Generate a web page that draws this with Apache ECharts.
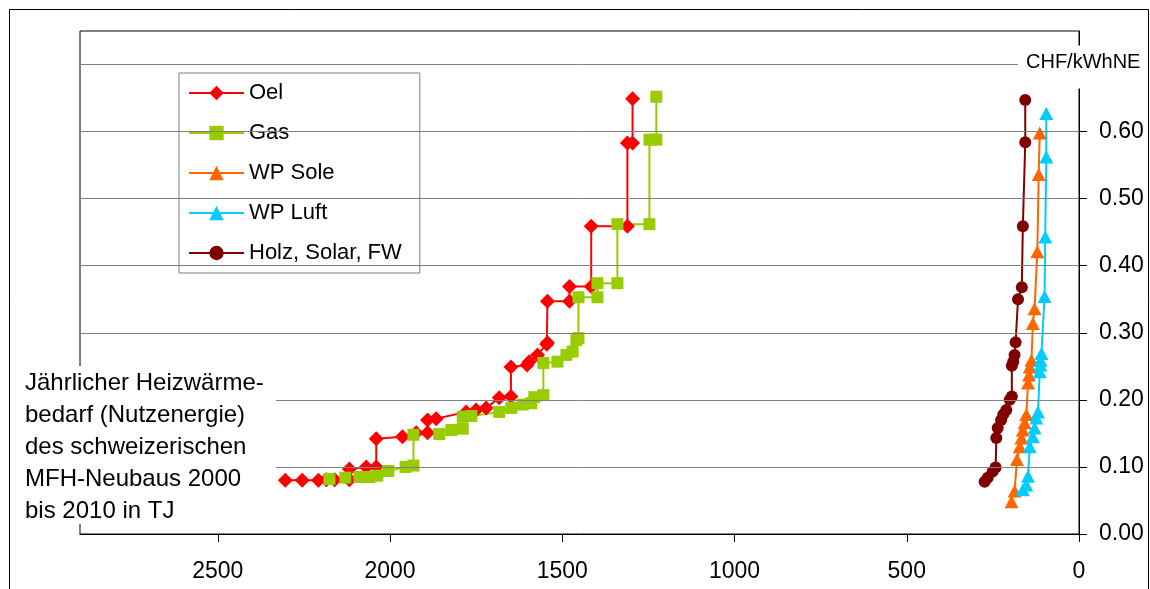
<!DOCTYPE html>
<html>
<head>
<meta charset="utf-8">
<script src="https://cdn.jsdelivr.net/npm/echarts@6/dist/echarts.min.js"></script>
<style>
  html, body { margin: 0; padding: 0; background: #fff; }
  #chart { width: 1150px; height: 589px; }
</style>
</head>
<body>
<div id="chart"></div>
<script>
// Heizwärmebedarf [TJ] vs. Energiepreis [CHF/kWhNE], je Energieträger
const seriesNames = ['Oel', 'Gas', 'WP Sole', 'WP Luft', 'Holz, Solar, FW'];

const oel = [
  [2304, 0.080], [2255, 0.080], [2208, 0.080], [2185, 0.081], [2161, 0.081],
  [2118, 0.081], [2118, 0.097], [2069, 0.100], [2040, 0.100], [2040, 0.142],
  [1964, 0.145], [1924, 0.151], [1891, 0.151], [1891, 0.170], [1866, 0.172],
  [1779, 0.182], [1750, 0.185], [1721, 0.188], [1683, 0.203], [1649, 0.205],
  [1649, 0.249], [1602, 0.252], [1596, 0.257], [1572, 0.267], [1545, 0.283],
  [1543, 0.285], [1543, 0.347], [1479, 0.347], [1479, 0.369], [1416, 0.369],
  [1416, 0.459], [1311, 0.459], [1311, 0.583], [1296, 0.583], [1296, 0.649]
];

const gas = [
  [2176, 0.082], [2130, 0.084], [2089, 0.085], [2060, 0.085], [2037, 0.087],
  [2005, 0.094], [1955, 0.100], [1932, 0.102], [1932, 0.148], [1857, 0.149],
  [1822, 0.155], [1789, 0.157], [1789, 0.175], [1764, 0.176], [1683, 0.182],
  [1648, 0.188], [1615, 0.193], [1590, 0.195], [1581, 0.204], [1555, 0.207],
  [1555, 0.255], [1514, 0.257], [1488, 0.267], [1470, 0.272], [1459, 0.289],
  [1453, 0.292], [1453, 0.353], [1398, 0.353], [1398, 0.374], [1340, 0.374],
  [1340, 0.462], [1247, 0.462], [1247, 0.588], [1227, 0.588], [1227, 0.652]
];

const wpSole = [
  [196, 0.048], [187, 0.064], [180, 0.111], [172, 0.130], [167, 0.143],
  [163, 0.155], [158, 0.166], [153, 0.178], [148, 0.225], [145, 0.237],
  [143, 0.249], [138, 0.259], [134, 0.314], [129, 0.336], [121, 0.421],
  [117, 0.536], [114, 0.598]
];

const wpLuft = [
  [163, 0.066], [153, 0.073], [148, 0.086], [143, 0.130], [134, 0.145],
  [129, 0.158], [124, 0.173], [119, 0.182], [114, 0.242], [112, 0.252],
  [112, 0.259], [109, 0.269], [100, 0.354], [98, 0.443], [95, 0.562],
  [95, 0.627]
];

const holzSolarFw = [
  [274, 0.078], [265, 0.084], [251, 0.093], [242, 0.099], [240, 0.143],
  [236, 0.158], [226, 0.170], [220, 0.178], [211, 0.185], [201, 0.200],
  [195, 0.205], [195, 0.251], [191, 0.257], [187, 0.267], [184, 0.286],
  [177, 0.350], [166, 0.368], [163, 0.459], [156, 0.584], [156, 0.647]
];

const xTicks = [0, 500, 1000, 1500, 2000, 2500];
const yTicks = [0, 0.1, 0.2, 0.3, 0.4, 0.5, 0.6];
const gridValues = [0.1, 0.2, 0.3, 0.4, 0.5, 0.6, 0.7];
const unitLabel = 'CHF/kWhNE';
const noteLines = [
  'Jährlicher Heizwärme-',
  'bedarf (Nutzenergie)',
  'des schweizerischen',
  'MFH-Neubaus 2000',
  'bis 2010 in TJ'
];

const FONT = '"Liberation Sans", Arial, sans-serif';

const styles = [
  { color: '#ff0000', symbol: 'diamond', size: [15, 15] },
  { color: '#99cc00', symbol: 'rect', size: 12 },
  { color: '#ff6600', symbol: 'triangle', size: [14, 13] },
  { color: '#00ccff', symbol: 'triangle', size: [14, 13] },
  { color: '#800000', symbol: 'circle', size: 12 }
];
const datasets = [oel, gas, wpSole, wpLuft, holzSolarFw];

const chart = echarts.init(document.getElementById('chart'), null, { renderer: 'canvas' });

// Horizontal grid lines, carried by an empty helper series so they sit on the y scale
const gridSeries = {
  name: '__grid',
  type: 'line',
  data: [],
  silent: true,
  z: 1,
  markLine: {
    silent: true,
    symbol: 'none',
    label: { show: false },
    lineStyle: { color: '#808080', width: 1, type: 'solid' },
    emphasis: { disabled: true },
    animation: false,
    data: gridValues.map(v => ({ yAxis: v }))
  }
};

chart.setOption({
  animation: false,
  backgroundColor: '#fff',
  textStyle: { fontFamily: FONT },
  grid: {
    left: 80, right: 71, top: 31, bottom: 55,
    show: true, borderColor: '#000', borderWidth: 1
  },
  legend: {
    orient: 'vertical',
    left: 179, top: 73,
    padding: [9, 18, 9, 9],
    itemWidth: 55, itemHeight: 18, itemGap: 18,
    backgroundColor: '#fff',
    borderColor: '#808080', borderWidth: 1,
    selectedMode: false,
    textStyle: { fontFamily: FONT, fontSize: 22, lineHeight: 22, color: '#000' },
    data: seriesNames
  },
  xAxis: {
    type: 'value',
    inverse: true,
    min: 0, max: 2900, interval: 500,
    axisLine: { show: true, lineStyle: { color: '#000', width: 1 } },
    axisTick: { show: true, length: 8, customValues: xTicks, lineStyle: { color: '#000' } },
    axisLabel: {
      customValues: xTicks,
      margin: 26, fontSize: 23, color: '#000', fontFamily: FONT,
      formatter: v => String(v)
    },
    splitLine: { show: false }
  },
  yAxis: {
    type: 'value',
    position: 'right',
    min: 0, max: 0.75, interval: 0.1,
    axisLine: { show: true, lineStyle: { color: '#000', width: 1 } },
    axisTick: { show: true, length: 8, customValues: yTicks, lineStyle: { color: '#000' } },
    axisLabel: {
      customValues: yTicks,
      margin: 20, fontSize: 23, color: '#000', fontFamily: FONT,
      formatter: v => v.toFixed(2)
    },
    splitLine: { show: false }
  },
  series: [gridSeries].concat(datasets.map((d, i) => ({
    name: seriesNames[i],
    type: 'line',
    data: d,
    z: 2,
    symbol: styles[i].symbol,
    symbolSize: styles[i].size,
    showAllSymbol: true,
    color: styles[i].color,
    itemStyle: { color: styles[i].color },
    lineStyle: { color: styles[i].color, width: 2 },
    emphasis: { disabled: true }
  })))
});

// Unit label sits on the 0.70 grid line, covering the axis behind it
const yUnit = chart.convertToPixel({ yAxisIndex: 0 }, 0.7);
const yZero = chart.convertToPixel({ yAxisIndex: 0 }, 0);

chart.setOption({
  graphic: [
    {
      type: 'rect', z: 100, silent: true,
      shape: { x: 9.5, y: 9.5, width: 1139, height: 700 },
      style: { fill: 'none', stroke: '#000', lineWidth: 1 }
    },
    {
      type: 'rect', z: 100, silent: true,
      shape: { x: 1018, y: yUnit - 19, width: 126, height: 43 },
      style: { fill: '#fff' }
    },
    {
      type: 'text', z: 101, silent: true,
      x: 1026, y: yUnit - 2,
      style: {
        text: unitLabel, fill: '#000',
        font: '20px ' + FONT,
        verticalAlign: 'middle', align: 'left'
      }
    },
    {
      type: 'rect', z: 100, silent: true,
      shape: { x: 18, y: 366, width: 258, height: yZero - 10 - 366 },
      style: { fill: '#fff' }
    },
    {
      type: 'text', z: 101, silent: true,
      x: 25, y: 367,
      style: {
        text: noteLines.join('\n'), fill: '#000',
        font: '24px ' + FONT, lineHeight: 32,
        verticalAlign: 'top', align: 'left'
      }
    }
  ]
});
</script>
</body>
</html>
